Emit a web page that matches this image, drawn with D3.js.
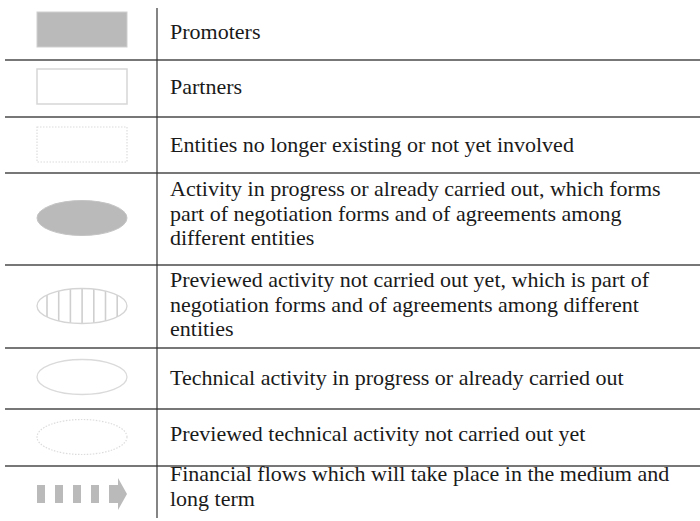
<!DOCTYPE html>
<html><head><meta charset="utf-8">
<script src="https://cdn.jsdelivr.net/npm/d3@7"></script>
<style>html,body{margin:0;padding:0;background:#fff;}svg{display:block;}
text.lab{font-family:"Liberation Serif","Times New Roman",Times,"DejaVu Serif",serif;}</style>
</head><body>
<svg id="c" width="700" height="521"></svg>
<script>
// ---- data ----
const symbols = ["rectFilled","rectOutline","rectDotted","ellipseFilled","ellipseHatched","ellipseOutline","ellipseDotted","arrow"];
const labels = [
  ["Promoters"],
  ["Partners"],
  ["Entities no longer existing or not yet involved"],
  ["Activity in progress or already carried out, which forms","part of negotiation forms and of agreements among","different entities"],
  ["Previewed activity not carried out yet, which is part of","negotiation forms and of agreements among different","entities"],
  ["Technical activity in progress or already carried out"],
  ["Previewed technical activity not carried out yet"],
  ["Financial flows which will take place in the medium and","long term"]
];

// ---- layout ----
const rowBounds = [0, 60, 117, 173, 265, 348, 409, 466, 521];
const firstBaseline = [39, 94, 152, 196, 287, 385, 441, 481];
const lineH = 24.5;
const divX = 157, textX = 170, symCx = 82;

const svg = d3.select("#c");
const y = d3.scaleLinear().domain([0, 521]).range([0, 521]);

// separators
svg.selectAll("line.sep").data(rowBounds.slice(1, -1)).join("line")
  .attr("class","sep").attr("x1",5).attr("x2",700)
  .attr("y1",d=>y(d)).attr("y2",d=>y(d))
  .attr("stroke","#4a4a4a").attr("stroke-width",1.3);
svg.append("line").attr("x1",divX).attr("x2",divX).attr("y1",8).attr("y2",518)
  .attr("stroke","#333").attr("stroke-width",1.2);

// text
const g = svg.selectAll("text.lab").data(labels).join("text")
  .attr("class","lab")
  .attr("font-size",22).attr("fill","#1a1a1a");
g.each(function(lines, i){
  d3.select(this).selectAll("tspan").data(lines).join("tspan")
    .attr("x", textX).attr("y",(d,j)=>y(firstBaseline[i] + j*lineH)).text(d=>d);
});

// symbols
const light = "#d6d6d6", fillG = "#bababa";
symbols.forEach((s, i) => {
  const sg = svg.append("g");
  if (s.startsWith("rect")) {
    const r = sg.append("rect").attr("x", 37).attr("width", 90).attr("height", 35);
    if (s === "rectFilled") r.attr("y", 12).attr("fill", fillG).attr("stroke","#cfcfcf").attr("stroke-width",1);
    else if (s === "rectOutline") r.attr("y", 69).attr("fill","none").attr("stroke",light).attr("stroke-width",1.5);
    else r.attr("y", 127).attr("fill","none").attr("stroke","#dcdcdc").attr("stroke-width",1.2).attr("stroke-dasharray","1.5,1.5");
  } else if (s.startsWith("ellipse")) {
    const ecy = {ellipseFilled:218, ellipseHatched:306, ellipseOutline:377, ellipseDotted:437}[s];
    const rx = 45, ry = 17.5;
    if (s === "ellipseHatched") {
      const xs = d3.range(7).map(k => 47 + k*11.7);
      sg.selectAll("line").data(xs).join("line")
        .attr("x1",d=>d).attr("x2",d=>d)
        .attr("y1",d=>ecy - ry*Math.sqrt(Math.max(0,1-((d-symCx)/rx)**2)))
        .attr("y2",d=>ecy + ry*Math.sqrt(Math.max(0,1-((d-symCx)/rx)**2)))
        .attr("stroke","#cfcfcf").attr("stroke-width",1.6);
    }
    const e = sg.append("ellipse").attr("cx",symCx).attr("cy",ecy).attr("rx",rx).attr("ry",ry);
    if (s === "ellipseFilled") e.attr("fill",fillG).attr("stroke","#c4c4c4");
    else if (s === "ellipseHatched") e.attr("fill","none").attr("stroke","#d4d4d4").attr("stroke-width",1.3);
    else if (s === "ellipseOutline") e.attr("fill","none").attr("stroke","#dadada").attr("stroke-width",1.3);
    else e.attr("fill","none").attr("stroke","#dcdcdc").attr("stroke-width",1.2).attr("stroke-dasharray","1.5,1.5");
  } else {
    const ay = 494;
    [37, 55, 73, 91].forEach(x => sg.append("rect").attr("x",x).attr("y",ay-9).attr("width",8).attr("height",18).attr("fill",fillG));
    sg.append("path").attr("d",`M109,${ay-9} L118,${ay-9} L118,${ay-16} L127,${ay} L118,${ay+16} L118,${ay+9} L109,${ay+9} Z`)
      .attr("fill",fillG);
  }
});
</script>
</body></html>
